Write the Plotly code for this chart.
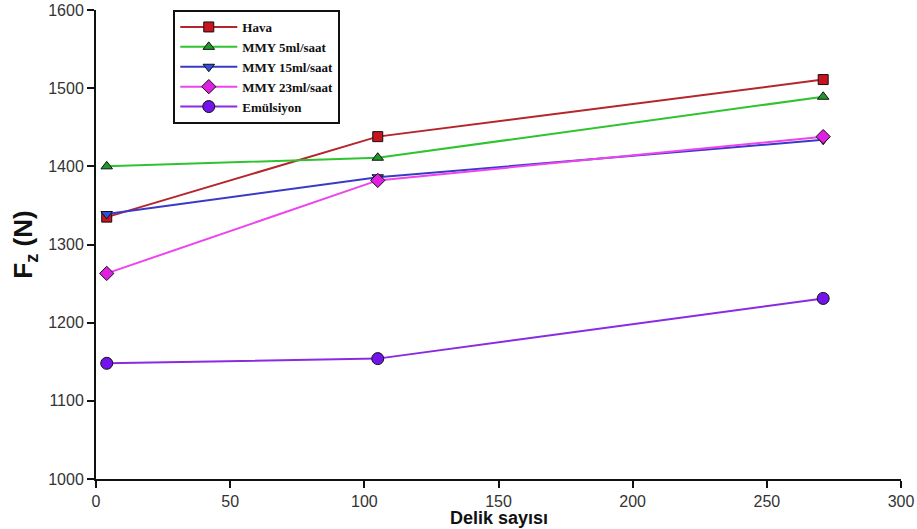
import plotly.graph_objects as go

delik = [4, 105, 271]
series_names = ["Hava", "MMY 5ml/saat", "MMY 15ml/saat", "MMY 23ml/saat", "Emülsiyon"]
hava = [1335, 1438, 1511]
mmy5 = [1400, 1411, 1489]
mmy15 = [1339, 1386, 1434]
mmy23 = [1263, 1382, 1438]
emulsiyon = [1148, 1154, 1231]
x_ticks = [0, 50, 100, 150, 200, 250, 300]
y_ticks = [1000, 1100, 1200, 1300, 1400, 1500, 1600]
x_title = "Delik sayısı"
y_title = "F<sub>z</sub> (N)"

values = [hava, mmy5, mmy15, mmy23, emulsiyon]
line_colors = ["#b5262b", "#2fc42f", "#3a3ac8", "#ee44ee", "#8a2be2"]
fill_colors = ["#c8141e", "#1f9a2a", "#2f4fe0", "#e020e0", "#7414ec"]
symbols = ["square", "triangle-up", "triangle-down", "diamond", "circle"]
sizes = [10, 10, 10, 11, 12]

fig = go.Figure()
for name, vals, lc, fc, sym, sz in zip(series_names, values, line_colors, fill_colors, symbols, sizes):
    fig.add_trace(go.Scatter(
        x=delik, y=vals, name=name, mode="lines+markers",
        line=dict(color=lc, width=2),
        marker=dict(symbol=sym, size=sz, color=fc, line=dict(color="#111111", width=1)),
    ))

tick_font = dict(family="Liberation Sans, Arial, sans-serif", size=16, color="#333333")

fig.add_annotation(
    text=x_title, xref="paper", yref="paper", x=0.5, y=-0.108,
    xanchor="center", yanchor="bottom", showarrow=False,
    font=dict(family="Liberation Sans, Arial, sans-serif", size=18, weight="bold", color="#111111"),
)

fig.update_layout(
    width=917, height=529,
    margin=dict(l=96, r=16, t=10, b=50),
    paper_bgcolor="white", plot_bgcolor="white",
    font=dict(family="Liberation Sans, Arial, sans-serif", color="#222222"),
    showlegend=True,
    legend=dict(
        x=0.096, y=1.0, xanchor="left", yanchor="top",
        bgcolor="white", bordercolor="#111111", borderwidth=2,
        font=dict(family="Liberation Serif, Times New Roman, serif", size=13, color="#111111", weight="bold"),
        itemwidth=57, tracegroupgap=0,
    ),
    xaxis=dict(
        range=[0, 300], tickvals=x_ticks, showgrid=False, zeroline=False,
        showline=True, linecolor="#111111", linewidth=2,
        ticks="outside", ticklen=7, tickwidth=2, tickcolor="#111111",
        tickfont=tick_font, ticklabeloverflow="allow", automargin=False,
    ),
    yaxis=dict(
        range=[1000, 1600], tickvals=y_ticks, showgrid=False, zeroline=False,
        showline=True, linecolor="#111111", linewidth=2,
        ticks="outside", ticklen=7, tickwidth=2, tickcolor="#111111",
        tickfont=tick_font, ticklabeloverflow="allow", automargin=False,
        title=dict(text=y_title, font=dict(size=26, weight="bold", color="#111111"), standoff=8),
    ),
)

fig.write_html(
    "out.html",
    config={"displayModeBar": False},
    post_script="document.body.style.margin='0';document.body.style.overflow='hidden';",
)
